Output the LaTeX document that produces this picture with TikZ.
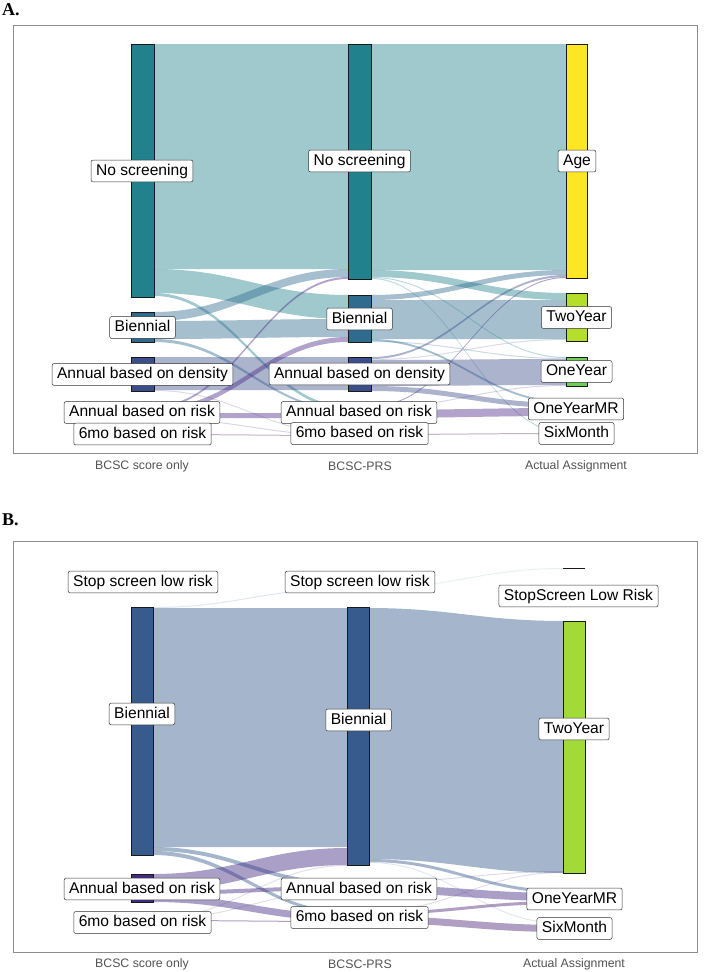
\documentclass[tikz,border=0pt]{standalone}
\usepackage{fontspec}
\setmainfont{Liberation Sans}
\newfontfamily\titlefont{Liberation Serif}
% stratum colours
\definecolor{cNS}{HTML}{21818C}
\definecolor{cBi}{HTML}{2E6B8E}
\definecolor{cDe}{HTML}{3C4E8A}
\definecolor{cRi}{HTML}{4A2A88}
\definecolor{cSm}{HTML}{440154}
\definecolor{cAge}{HTML}{FDE725}
\definecolor{cTwo}{HTML}{B5DE2B}
\definecolor{cOne}{HTML}{6ECE58}
\definecolor{cOMR}{HTML}{35B779}
\definecolor{cSix}{HTML}{1F9E89}
\definecolor{bBi}{HTML}{375B8D}
\definecolor{bRi}{HTML}{432A82}
\definecolor{bSm}{HTML}{441A70}
\definecolor{bTwo}{HTML}{A2DA37}
\definecolor{bOMR}{HTML}{35B779}
\definecolor{bSix}{HTML}{1F9E89}
% flow macro: style, xL, yTopL, yBotL, xR, yTopR, yBotR
\newcommand\alf[7]{%
  \fill[#1] (#2,#3) .. controls ({#2+0.42*(#5-#2)},#3) and ({#5-0.42*(#5-#2)},#6) .. (#5,#6)
    -- (#5,#7) .. controls ({#5-0.42*(#5-#2)},#7) and ({#2+0.42*(#5-#2)},#4) .. (#2,#4) -- cycle;}
\newcommand\strat[5]{\filldraw[bar,fill=#1] (#2,#4) rectangle (#3,#5);}
\begin{document}
\begin{tikzpicture}[x=1pt,y=-1pt]
\useasboundingbox (0,0) rectangle (708,972);
\tikzset{
  lab/.style={draw=black!80, line width=0.5pt, fill=white, rounded corners=2pt,
    inner xsep=5pt, inner ysep=3.6pt, text height=11.4pt, text depth=3.3pt,
    font=\fontsize{15.6}{17}\selectfont},
  axlab/.style={text=black!68, inner sep=0pt, font=\fontsize{12.3}{14}\selectfont},
  ttl/.style={inner sep=0pt, anchor=base west, font=\titlefont\bfseries\fontsize{18}{20}\selectfont},
  bar/.style={draw=black!90, line width=1pt},
  frm/.style={draw=black!45, line width=0.8pt},
  fNS/.style={fill=cNS, fill opacity=0.43},
  fNSF/.style={fill=cNS, fill opacity=0.3},
  fBi/.style={fill=cBi, fill opacity=0.43},
  fBiF/.style={fill=cBi, fill opacity=0.25},
  fDe/.style={fill=cDe, fill opacity=0.43},
  fDeF/.style={fill=cDe, fill opacity=0.2},
  fRi/.style={fill=cRi, fill opacity=0.43},
  fRiF/.style={fill=cRi, fill opacity=0.2},
  fSm/.style={fill=cSm, fill opacity=0.3},
  gBi/.style={fill=bBi, fill opacity=0.45},
  gBiF/.style={fill=bBi, fill opacity=0.15},
  gRi/.style={fill=bRi, fill opacity=0.45},
  gRiF/.style={fill=bRi, fill opacity=0.18},
  gSm/.style={fill=bSm, fill opacity=0.42},
  gSmF/.style={fill=bSm, fill opacity=0.15},
  gStF/.style={fill=cSix, fill opacity=0.12},
}
% ================= PANEL A =================
\node[ttl] (tA) at (2,15) {A.};
\draw[frm] (13,25) rectangle (697,453);
% flows col1 -> col2
\alf{fNS}{154}{44}{269}{348}{44}{269}
\alf{fNS}{154}{269}{293}{348}{295}{319}
\alf{fNS}{154}{293}{296}{348}{406}{409}
\alf{fBi}{154}{312}{321}{348}{269}{277}
\alf{fBi}{154}{321}{339}{348}{319}{337}
\alf{fBi}{154}{339}{342}{348}{409}{411}
\alf{fDe}{154}{357}{390}{348}{357}{390}
\alf{fDeF}{154}{390}{391}{348}{434}{435}
\alf{fRi}{154}{406}{408}{348}{277}{279}
\alf{fRi}{154}{408}{413}{348}{337}{342}
\alf{fRi}{154}{413}{418}{348}{413}{418}
\alf{fRiF}{154}{418}{419}{348}{435}{436}
\alf{fSm}{154}{434}{435}{348}{435}{436}
% flows col2 -> col3
\alf{fNS}{371}{44}{270}{566}{44}{270}
\alf{fNS}{371}{270}{277}{566}{293}{300}
\alf{fNSF}{371}{277}{278}{566}{357}{358}
\alf{fNSF}{371}{278}{279}{566}{432}{433}
\alf{fBi}{371}{295}{300}{566}{270}{275}
\alf{fBi}{371}{300}{339}{566}{300}{339}
\alf{fBi}{371}{339}{341}{566}{401}{403}
\alf{fBiF}{371}{341}{342}{566}{358}{359}
\alf{fDe}{371}{357}{359}{566}{275}{277}
\alf{fDeF}{371}{359}{360}{566}{339}{340}
\alf{fDe}{371}{360}{386}{566}{359}{385}
\alf{fDe}{371}{386}{391}{566}{403}{408}
\alf{fRi}{371}{406}{407}{566}{277}{278}
\alf{fRiF}{371}{407}{408}{566}{385}{386}
\alf{fRi}{371}{410}{418}{566}{408}{416}
\alf{fSm}{371}{434}{435}{566}{433}{434}
% strata
\strat{cNS}{131}{154}{44}{297}
\strat{cBi}{131}{154}{312}{342}
\strat{cDe}{131}{154}{357}{391}
\strat{cRi}{131}{154}{406}{420}
\strat{cSm}{131}{154}{434}{436}
\strat{cNS}{348}{371}{44}{279}
\strat{cBi}{348}{371}{295}{342}
\strat{cDe}{348}{371}{357}{391}
\strat{cRi}{348}{371}{406}{420}
\strat{cSm}{348}{371}{434}{436}
\strat{cAge}{566}{587}{44}{278}
\strat{cTwo}{566}{587}{293}{341}
\strat{cOne}{566}{587}{357}{386}
\strat{cOMR}{566}{587}{401}{417}
\strat{cSix}{566}{587}{432}{434}
% labels
\node[lab] (a1ns) at (142,171) {No screening};
\node[lab] (a1bi) at (142.5,327.5) {Biennial};
\node[lab] (a1de) at (142.5,374.5) {Annual based on density};
\node[lab] (a1ri) at (142,412.5) {Annual based on risk};
\node[lab] (a1sm) at (142.5,434) {6mo based on risk};
\node[lab] (a2ns) at (359.5,161) {No screening};
\node[lab] (a2bi) at (359.5,319) {Biennial};
\node[lab] (a2de) at (359.5,374) {Annual based on density};
\node[lab] (a2ri) at (359,412.5) {Annual based on risk};
\node[lab] (a2sm) at (359.5,433.5) {6mo based on risk};
\node[lab] (a3age) at (577,161) {Age};
\node[lab] (a3two) at (576.5,317.5) {TwoYear};
\node[lab] (a3one) at (576.5,371.5) {OneYear};
\node[lab] (a3omr) at (576,409) {OneYearMR};
\node[lab] (a3six) at (576.5,433.5) {SixMonth};
\node[axlab] (ax1) at (142,466) {BCSC score only};
\node[axlab] (ax2) at (360,466) {BCSC-PRS};
\node[axlab] (ax3) at (576,466) {Actual Assignment};
% ================= PANEL B =================
\node[ttl] (tB) at (2,525) {B.};
\draw[frm] (13,541) rectangle (697,952);
% flows col1 -> col2
\alf{gBiF}{153}{607}{608}{347}{588}{589}
\alf{gBi}{153}{608}{847}{347}{608}{847}
\alf{gBi}{153}{847}{851}{347}{882}{886}
\alf{gBi}{153}{851}{855}{347}{911}{914}
\alf{gRi}{153}{874}{891}{347}{848}{865}
\alf{gRi}{153}{891}{895}{347}{886}{890}
\alf{gRi}{153}{895}{902}{347}{914}{921}
\alf{gSmF}{153}{918}{919}{347}{865}{866}
\alf{gSmF}{153}{919}{920}{347}{890}{891}
\alf{gSm}{153}{920}{921}{347}{921}{922}
% flows col2 -> col3
\alf{gStF}{369}{588}{589}{563}{568}{569}
\alf{gBi}{369}{608}{859}{563}{621}{873}
\alf{gBi}{369}{859}{862}{563}{890}{893}
\alf{gBiF}{369}{862}{863}{563}{923}{924}
\alf{gRiF}{369}{882}{883}{563}{871}{872}
\alf{gRi}{369}{885}{893}{563}{893}{901}
\alf{gSmF}{369}{911}{912}{563}{872}{873}
\alf{gSm}{369}{912}{915}{563}{901}{904}
\alf{gSm}{369}{916}{923}{563}{925}{932}
% strata
\strat{bBi}{131}{153}{607}{855}
\strat{bRi}{131}{153}{874}{902}
\strat{bSm}{131}{153}{920}{922}
\strat{bBi}{347}{369}{607}{865}
\strat{bRi}{347}{369}{882}{894}
\strat{bSm}{347}{369}{911}{924}
\draw[bar] (563,568) -- (585,568);
\strat{bTwo}{563}{585}{621}{873}
\strat{bOMR}{563}{585}{890}{906}
\strat{bSix}{563}{585}{923}{934}
% labels
\node[lab] (b1st) at (143,582) {Stop screen low risk};
\node[lab] (b1bi) at (142,714) {Biennial};
\node[lab] (b1ri) at (142,889) {Annual based on risk};
\node[lab] (b1sm) at (142.5,922.5) {6mo based on risk};
\node[lab] (b2st) at (360,582) {Stop screen low risk};
\node[lab] (b2bi) at (358.5,720) {Biennial};
\node[lab] (b2ri) at (359,889) {Annual based on risk};
\node[lab] (b2sm) at (359.5,917.5) {6mo based on risk};
\node[lab] (b3st) at (578.5,596) {StopScreen Low Risk};
\node[lab] (b3two) at (574,729) {TwoYear};
\node[lab] (b3omr) at (574.5,899) {OneYearMR};
\node[lab] (b3six) at (574.5,928.5) {SixMonth};
\node[axlab] (bx1) at (142,964) {BCSC score only};
\node[axlab] (bx2) at (360,964) {BCSC-PRS};
\node[axlab] (bx3) at (574,964) {Actual Assignment};
\end{tikzpicture}
\end{document}
